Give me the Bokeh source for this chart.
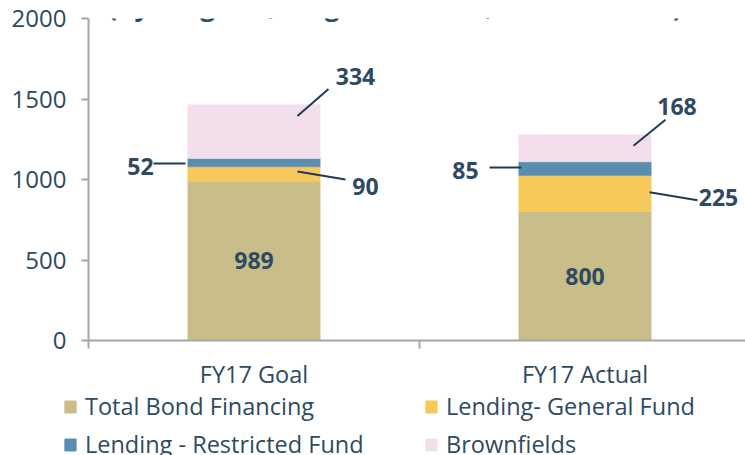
from bokeh.plotting import figure
from bokeh.models import ColumnDataSource, Range1d, FixedTicker, Legend, LegendItem, Label
from bokeh.embed import file_html
from bokeh.resources import INLINE

# ---------------- data ----------------
title_text = "(By Program, Target v. Actual, New & Rehab)"
categories = ["FY17 Goal", "FY17 Actual"]
series_names = ["Total Bond Financing", "Lending- General Fund",
                "Lending - Restricted Fund", "Brownfields"]
total_bond = [989, 800]
lending_general = [90, 225]
lending_restricted = [52, 85]
brownfields = [334, 168]
y_ticks = [0, 500, 1000, 1500, 2000]

# ---------------- style / layout ----------------
colors = ["#C9BD89", "#F7C85A", "#5B8DB1", "#F3DFEB"]
text_color = "#2D4A62"
leader_color = "#1F3B57"
axis_color = "#A6A6A6"
FONT = "Open Sans"

W = 745
H_MAIN, H_LEG = 392, 63
LEFT, TOP, RIGHT = 88, 18, 0
frame_h = 324
BOTTOM = H_MAIN - TOP - frame_h
frame_w = W - LEFT - RIGHT
cat_px = 331.0
x_end = frame_w / cat_px
y_end = y_ticks[-1]
ppx = frame_w / x_end       # pixels per x unit
ppy = frame_h / y_end       # pixels per y unit

# leader-label offsets in screen pixels (dx right, dy down) from (bar centre, segment middle)
leader_layout = {
    (0, 1): dict(label=(111.5, 12.5), line=((43.5, -2.5), (91.5, 5.5))),
    (0, 2): dict(label=(-113.5, 3.5), line=((-100.5, 1.0), (-68.5, 1.0))),
    (0, 3): dict(label=(101.5, -55.7), line=((74.5, -42.7), (43.5, -15.7))),
    (1, 1): dict(label=(133.5, 4.2), line=((64.5, -1.3), (112.5, 6.7))),
    (1, 2): dict(label=(-119.5, 1.9), line=((-95.5, -1.1), (-63.5, -1.1))),
    (1, 3): dict(label=(92.0, -42.1), line=((80.5, -28.6), (48.5, -2.6))),
}

series = [total_bond, lending_general, lending_restricted, brownfields]
keys = ["s%d" % j for j in range(len(series))]
xs = [i + 0.5 for i in range(len(categories))]
src = ColumnDataSource(dict(x=xs, **{k: v for k, v in zip(keys, series)}))

p = figure(width=W, height=H_MAIN, x_range=Range1d(0, x_end), y_range=Range1d(0, y_end),
           output_backend="svg", toolbar_location=None,
           min_border_left=LEFT, min_border_top=TOP,
           min_border_bottom=BOTTOM, min_border_right=RIGHT)
p.outline_line_color = None
p.xgrid.visible = False
p.ygrid.visible = False

p.vbar_stack(keys, x="x", width=0.4, source=src,
             fill_color=colors, line_color=colors, line_width=0.5)

# ---------------- data labels ----------------
lab_x, lab_y, lab_t = [], [], []
sx0, sy0, sx1, sy1 = [], [], [], []
for i, xc in enumerate(xs):
    bottom = 0
    for j, vals in enumerate(series):
        v = vals[i]
        mid = bottom + v / 2.0
        if j == 0:
            lab_x.append(xc); lab_y.append(mid); lab_t.append(str(v))
        else:
            lay = leader_layout[(i, j)]
            dx, dy = lay["label"]
            lab_x.append(xc + dx / ppx); lab_y.append(mid - dy / ppy); lab_t.append(str(v))
            (ax, ay), (bx, by) = lay["line"]
            sx0.append(xc + ax / ppx); sy0.append(mid - ay / ppy)
            sx1.append(xc + bx / ppx); sy1.append(mid - by / ppy)
        bottom += v

p.segment(x0=sx0, y0=sy0, x1=sx1, y1=sy1, line_color=leader_color, line_width=2)
p.text(x=lab_x, y=lab_y, text=lab_t, text_align="center", text_baseline="middle",
       text_font={"value": FONT}, text_font_style="bold", text_font_size="23px",
       text_color=text_color)

# ---------------- title (cut off at top in reference) ----------------
p.add_layout(Label(x=(394.5 - LEFT) / ppx, y=y_end + (TOP - 5.5) / ppy, text=title_text,
                   text_align="center", text_baseline="alphabetic",
                   text_font=FONT, text_font_style="bold", text_font_size="26px",
                   text_color=text_color))

# ---------------- axes ----------------
xa = p.xaxis[0]
xa.ticker = FixedTicker(ticks=xs, minor_ticks=list(range(len(categories) + 1)))
xa.major_label_overrides = {x: c for x, c in zip(xs, categories)}
xa.major_tick_out = 0
xa.major_tick_in = 0
xa.minor_tick_in = 0
xa.minor_tick_out = 8
xa.minor_tick_line_color = axis_color
xa.minor_tick_line_width = 2
xa.axis_line_color = axis_color
xa.axis_line_width = 2
xa.major_label_standoff = 9
xa.major_label_text_font = FONT
xa.major_label_text_font_size = "23.5px"
xa.major_label_text_color = text_color

ya = p.yaxis[0]
ya.ticker = FixedTicker(ticks=y_ticks)
ya.major_tick_out = 7
ya.major_tick_in = 0
ya.major_tick_line_color = axis_color
ya.major_tick_line_width = 2
ya.minor_tick_line_color = None
ya.axis_line_color = axis_color
ya.axis_line_width = 2
ya.major_label_standoff = 15
ya.major_label_text_font = FONT
ya.major_label_text_font_size = "24px"
ya.major_label_text_color = text_color

# ---------------- legend strip (separate root figure, bars kept off its visible range) ----------------
q = figure(width=W, height=H_LEG, x_range=Range1d(-10, -9), y_range=Range1d(0, 1),
           output_backend="svg", toolbar_location=None,
           x_axis_location=None, y_axis_location=None, min_border=0)
q.outline_line_color = None
q.xgrid.visible = False
q.ygrid.visible = False
leg_renderers = q.vbar_stack(keys, x="x", width=0.4, source=src,
                             fill_color=colors, line_color=colors)
items = [LegendItem(label=n, renderers=[r]) for n, r in zip(series_names, leg_renderers)]
lg = Legend(items=items, orientation="horizontal", ncols=2, location=(63, -5),
            glyph_width=14, glyph_height=15, label_standoff=8,
            label_width=333, spacing=6, padding=0, margin=0,
            border_line_color=None, background_fill_alpha=0,
            label_text_font=FONT, label_text_font_size="23.5px",
            label_text_color=text_color)
q.add_layout(lg)

open("out.html", "w").write(file_html([p, q], INLINE))
